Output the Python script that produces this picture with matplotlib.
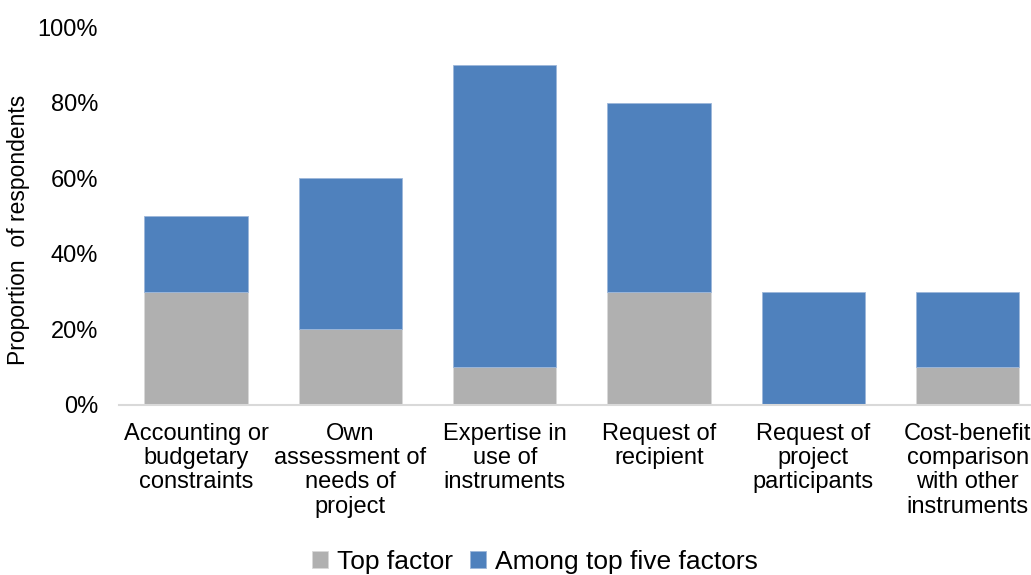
import matplotlib.pyplot as plt
from matplotlib.ticker import PercentFormatter

plt.rcParams["font.family"] = ["Liberation Sans", "DejaVu Sans"]

categories = [
    "Accounting or\nbudgetary\nconstraints",
    "Own\nassessment of\nneeds of\nproject",
    "Expertise in\nuse of\ninstruments",
    "Request of\nrecipient",
    "Request of\nproject\nparticipants",
    "Cost-benefit\ncomparison\nwith other\ninstruments",
]
top_factor = [30, 20, 10, 30, 0, 10]
among_top_five = [20, 40, 80, 50, 30, 20]

gray = "#B0B0B0"
blue = "#4F81BD"

fig = plt.figure(figsize=(10.31, 5.75), dpi=100)
ax = fig.add_axes([0.1154, 0.2957, 0.8846, 0.6573])

x = range(len(categories))
ax.bar(x, top_factor, width=0.67, color=gray, edgecolor="#D9D9D9", linewidth=0.6, label="Top factor")
ax.bar(x, among_top_five, width=0.67, bottom=top_factor, color=blue, edgecolor="#9DB7DA",
       linewidth=0.6, label="Among top five factors")

ax.set_xlim(-0.5, 5.41)
ax.set_ylim(0, 100)
ax.set_yticks(range(0, 101, 20))
ax.yaxis.set_major_formatter(PercentFormatter(decimals=0))
ax.set_xticks(list(x))
ax.set_xticklabels(categories, fontsize=17, linespacing=1.13)
ax.tick_params(axis="y", labelsize=17, length=0, pad=15)
ax.tick_params(axis="x", length=0, pad=13)
ax.set_ylabel("Proportion  of respondents", fontsize=16.5)
ax.yaxis.set_label_coords(-0.098, 0.463)

for s in ["top", "right", "left"]:
    ax.spines[s].set_visible(False)
ax.spines["bottom"].set_color("#D9D9D9")
ax.spines["bottom"].set_linewidth(1.5)

fig.legend(loc="lower center", bbox_to_anchor=(0.519, -0.025), ncol=2, frameon=False,
           fontsize=19, handlelength=0.6, handleheight=0.6, handletextpad=0.35, columnspacing=0.65,
           borderaxespad=0.2)

fig.savefig("out.png", dpi=100)
